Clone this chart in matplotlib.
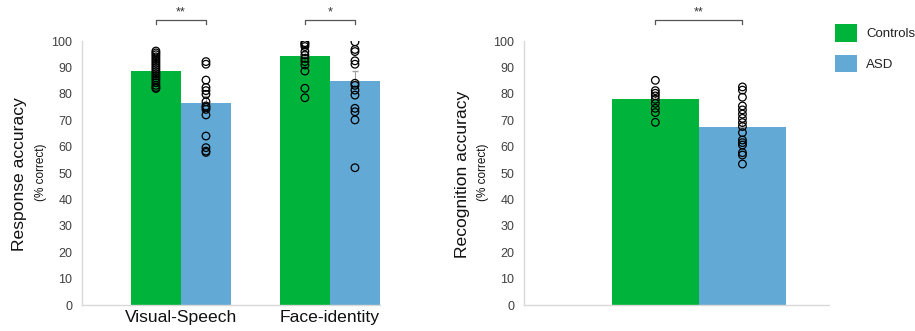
import matplotlib
matplotlib.use("Agg")
import matplotlib.pyplot as plt
from matplotlib.patches import Patch
import numpy as np

plt.rcParams['font.family'] = ['Liberation Sans', 'DejaVu Sans']

GREEN = '#00b33a'
BLUE = '#62a9d5'
SPINE = '#d9d9d9'
TICK = '#404040'

# ---- data ----
tasks = ["Visual-Speech", "Face-identity"]
groups = ["Controls", "ASD"]
resp_ctrl_mean = [88.7, 94.3]
resp_asd_mean = [76.5, 85.0]
resp_ctrl_err = [1.1, 1.6]
resp_asd_err = [2.6, 3.6]
resp_sig = ["**", "*"]

vs_ctrl = [96.2, 95.5, 94.8, 94.0, 93.2, 92.4, 91.6, 90.8, 90.0, 89.2, 88.4,
           87.6, 86.8, 86.0, 85.2, 84.2, 83.2, 82.4, 82.0]
vs_asd = [92.2, 91.2, 85.2, 82.4, 81.2, 79.8, 77.0, 75.4, 74.9, 74.1, 72.0,
          64.0, 59.6, 58.3, 57.8]
fi_ctrl = [99.4, 99.0, 98.6, 97.9, 96.0, 94.7, 93.4, 92.2, 90.9, 88.6, 82.1, 78.5]
fi_asd = [99.7, 96.8, 96.0, 92.5, 91.2, 84.0, 83.2, 81.4, 79.5, 74.5, 73.2, 70.1, 52.0]

rec_ctrl_mean = 78.1
rec_asd_mean = 67.3
rec_ctrl_err = 1.3
rec_asd_err = 2.2
rec_sig = "**"
rec_ctrl = [85.1, 81.2, 80.2, 79.2, 77.9, 76.4, 74.5, 72.9, 69.2]
rec_asd = [82.6, 81.4, 78.7, 75.4, 73.9, 72.3, 70.7, 69.1, 67.6, 65.3, 62.5,
           61.5, 60.6, 57.7, 56.8, 53.4]

W, H = 915, 331
fig = plt.figure(figsize=(W / 100, H / 100), dpi=100)


def style_axes(ax):
    for s in ['top', 'right']:
        ax.spines[s].set_visible(False)
    for s in ['left', 'bottom']:
        ax.spines[s].set_color(SPINE)
        ax.spines[s].set_linewidth(1.0)
    ax.set_ylim(0, 100)
    ax.set_yticks(np.arange(0, 101, 10))
    ax.tick_params(axis='y', length=0, pad=7, labelsize=9, labelcolor=TICK)
    ax.tick_params(axis='x', length=0, pad=3.5, labelsize=12.6, labelcolor='#111111')


def dots(ax, x, vals):
    ax.scatter(np.full(len(vals), x), vals, s=30, facecolors='none',
               edgecolors='black', linewidths=0.9, zorder=4)


def bracket(ax, x0, x1, label):
    y, tick = 108, 1.6
    ax.plot([x0, x0, x1, x1], [y - tick, y, y, y - tick], color='#555555',
            lw=0.9, clip_on=False)
    ax.text((x0 + x1) / 2, y + 0.4, label, ha='center', va='bottom',
            fontsize=9, color='#333333', clip_on=False)


# ---- left panel ----
ax1 = fig.add_axes([82 / W, (H - 305) / H, (380 - 82) / W, 264 / H])
x = np.arange(len(tasks))
bw = 0.336
ax1.bar(x - bw / 2, resp_ctrl_mean, bw, color=GREEN, zorder=2)
ax1.bar(x + bw / 2, resp_asd_mean, bw, color=BLUE, zorder=2)
ax1.errorbar(x - bw / 2, resp_ctrl_mean, yerr=[[0, 0], resp_ctrl_err], fmt='none',
             ecolor='#a0a0a0', elinewidth=0.8, capsize=2.5, zorder=3)
ax1.errorbar(x + bw / 2, resp_asd_mean, yerr=[[0, 0], resp_asd_err], fmt='none',
             ecolor='#a0a0a0', elinewidth=0.8, capsize=2.5, zorder=3)
for i, (c, a) in enumerate([(vs_ctrl, vs_asd), (fi_ctrl, fi_asd)]):
    dots(ax1, x[i] - bw / 2, c)
    dots(ax1, x[i] + bw / 2, a)
    bracket(ax1, x[i] - bw / 2, x[i] + bw / 2, resp_sig[i])
ax1.set_xlim(-0.664, 1.336)
ax1.set_xticks(x)
ax1.set_xticklabels(tasks)
style_axes(ax1)

fig.text(20 / W, 1 - 174 / H, "Response accuracy", rotation=90, ha='center',
         va='center', fontsize=12.6, color='#111111')
fig.text(41 / W, 1 - 172 / H, "(% correct)", rotation=90, ha='center',
         va='center', fontsize=8.5, color='#111111')

# ---- right panel ----
ax2 = fig.add_axes([524 / W, (H - 305) / H, (829 - 524) / W, 264 / H])
bw2 = 0.5
ax2.bar([-bw2 / 2], [rec_ctrl_mean], bw2, color=GREEN, zorder=2)
ax2.bar([bw2 / 2], [rec_asd_mean], bw2, color=BLUE, zorder=2)
ax2.errorbar([-bw2 / 2], [rec_ctrl_mean], yerr=[[0], [rec_ctrl_err]], fmt='none',
             ecolor='#a0a0a0', elinewidth=0.8, capsize=2.5, zorder=3)
ax2.errorbar([bw2 / 2], [rec_asd_mean], yerr=[[0], [rec_asd_err]], fmt='none',
             ecolor='#a0a0a0', elinewidth=0.8, capsize=2.5, zorder=3)
dots(ax2, -bw2 / 2, rec_ctrl)
dots(ax2, bw2 / 2, rec_asd)
bracket(ax2, -bw2 / 2, bw2 / 2, rec_sig)
ax2.set_xlim(-1.004, 0.747)
ax2.set_xticks([])
style_axes(ax2)

fig.text(462 / W, 1 - 174 / H, "Recognition accuracy", rotation=90, ha='center',
         va='center', fontsize=12.6, color='#111111')
fig.text(483 / W, 1 - 172 / H, "(% correct)", rotation=90, ha='center',
         va='center', fontsize=8.5, color='#111111')

# ---- legend ----
handles = [Patch(facecolor=GREEN, edgecolor='none'),
           Patch(facecolor=BLUE, edgecolor='none')]
fig.legend(handles, groups, loc='upper left', bbox_to_anchor=(835 / W, 1 - 24 / H),
           frameon=False, fontsize=9.5, handlelength=1.67, handleheight=1.67,
           handletextpad=0.7, labelspacing=1.0, borderpad=0, borderaxespad=0,
           labelcolor='#222222')

fig.savefig("out.png", dpi=100)
